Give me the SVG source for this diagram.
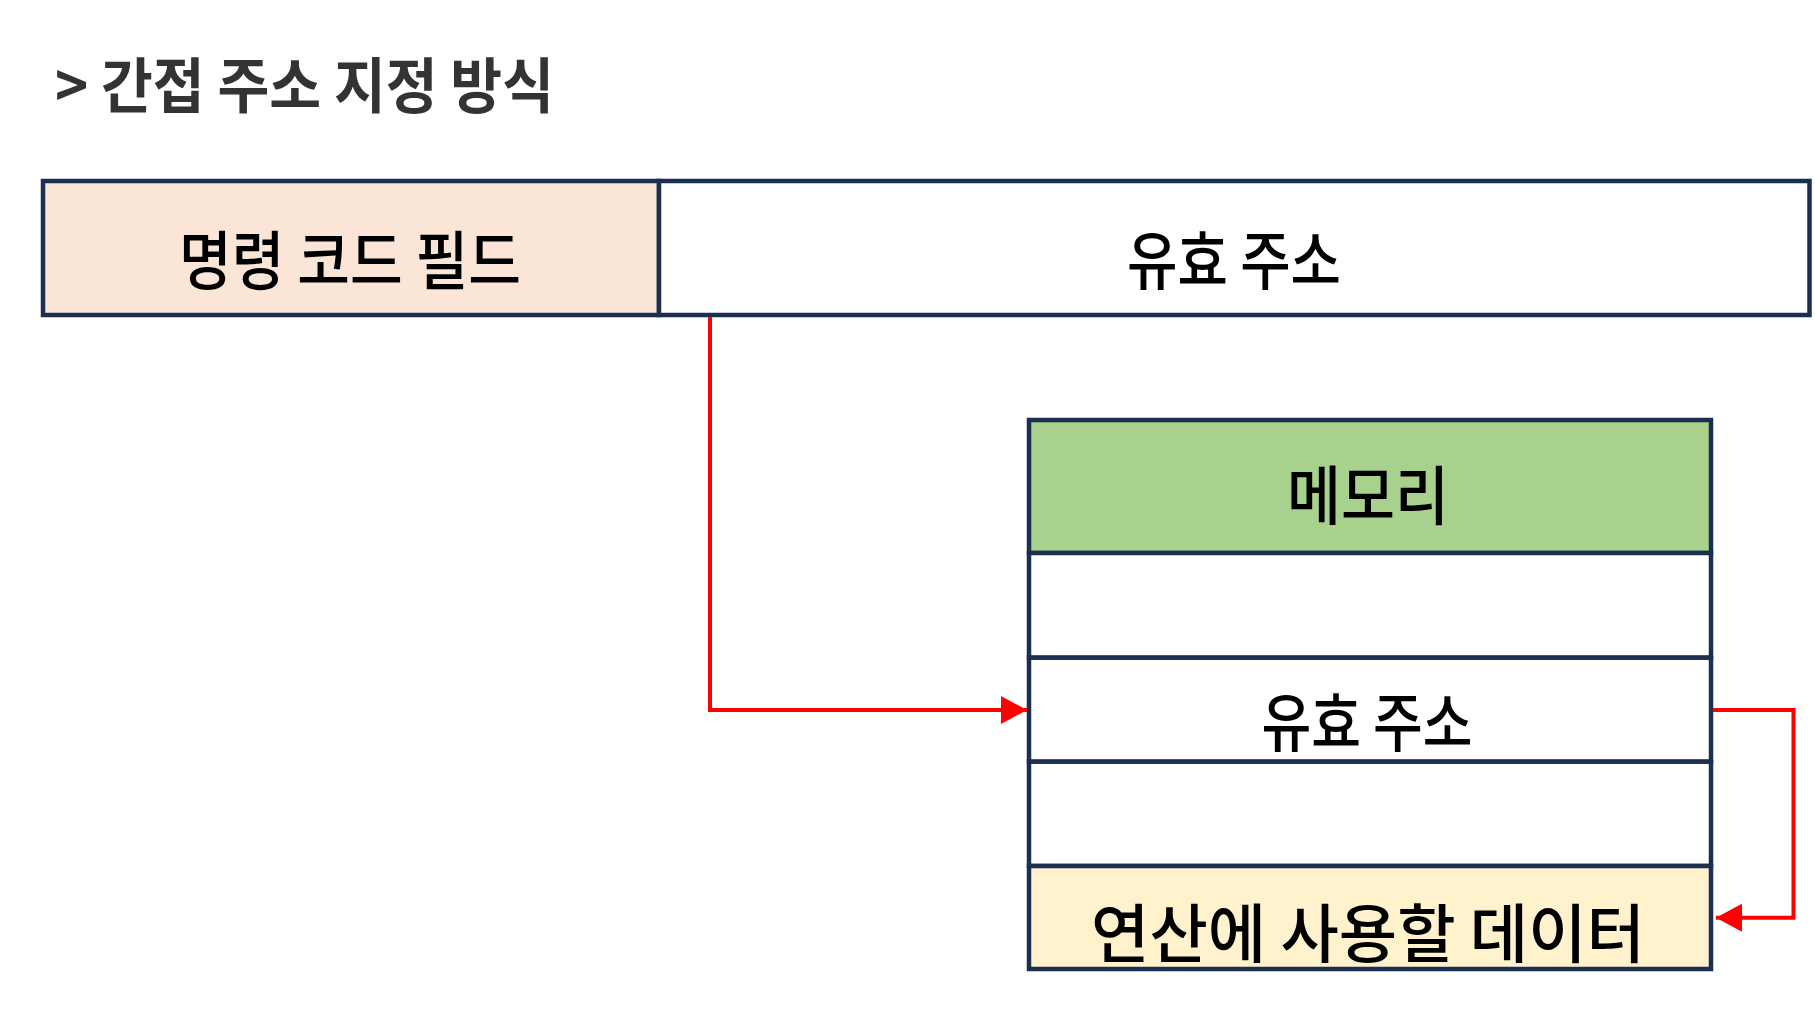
<svg xmlns="http://www.w3.org/2000/svg" width="1815" height="1031" viewBox="0 0 1815 1031">
<style>
.box{stroke:#1c2e52;stroke-width:4.5}
.lbl{font-family:"Noto Sans CJK KR","Noto Sans",sans-serif;font-size:64px;font-weight:500;fill:#000}
.title{font-family:"Noto Sans CJK KR","Noto Sans",sans-serif;font-size:60px;font-weight:700;fill:#333333}
.conn{fill:none;stroke:#ff0000;stroke-width:4}
</style>
<defs>
<marker id="arr" markerUnits="userSpaceOnUse" markerWidth="27" markerHeight="28" refX="26" refY="14" orient="auto">
<path d="M0,0 L26,14 L0,28 z" fill="#ff0000"/>
</marker>
</defs>
<rect x="0" y="0" width="1815" height="1031" fill="#ffffff"/>
<g id="title">
<text class="title" x="55" y="108" textLength="499" lengthAdjust="spacingAndGlyphs">&gt; 간접 주소 지정 방식</text>
</g>
<g id="opcode">
<rect class="box" x="43" y="181" width="616" height="134" fill="#fbe5d6"/>
<text class="lbl" x="350" y="284" text-anchor="middle" textLength="342" lengthAdjust="spacingAndGlyphs">명령 코드 필드</text>
</g>
<g id="address">
<rect class="box" x="659" y="181" width="1150.5" height="134" fill="#ffffff"/>
<text class="lbl" x="1234" y="284" text-anchor="middle" textLength="214" lengthAdjust="spacingAndGlyphs">유효 주소</text>
</g>
<g id="memory">
<rect class="box" x="1029" y="420" width="682" height="133" fill="#a9d18e"/>
<text class="lbl" x="1368" y="519" text-anchor="middle" textLength="162" lengthAdjust="spacingAndGlyphs">메모리</text>
</g>
<g id="mem-row1">
<rect class="box" x="1029" y="553" width="682" height="104.7" fill="#ffffff"/>
</g>
<g id="mem-row2">
<rect class="box" x="1029" y="657.7" width="682" height="104" fill="#ffffff"/>
<text class="lbl" x="1367" y="746" text-anchor="middle" textLength="211" lengthAdjust="spacingAndGlyphs">유효 주소</text>
</g>
<g id="mem-row3">
<rect class="box" x="1029" y="761.7" width="682" height="104.3" fill="#ffffff"/>
</g>
<g id="mem-data">
<rect class="box" x="1029" y="866" width="682" height="103" fill="#fff2cc"/>
<text class="lbl" x="1368" y="957" text-anchor="middle" textLength="554" lengthAdjust="spacingAndGlyphs">연산에 사용할 데이터</text>
</g>
<g id="connectors">
<path class="conn" d="M710,317 V710 H1027" marker-end="url(#arr)"/>
<path class="conn" d="M1713,710 H1793.5 V917.7 H1716" marker-end="url(#arr)"/>
</g>
</svg>
